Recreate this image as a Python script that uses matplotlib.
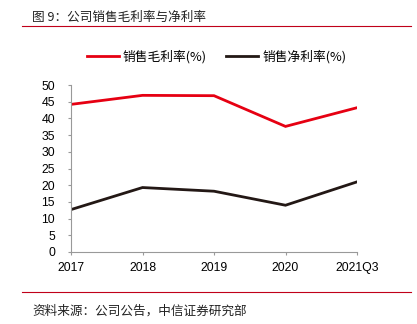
import matplotlib.pyplot as plt
from matplotlib.lines import Line2D

plt.rcParams['font.family'] = ['Liberation Sans', 'Noto Sans CJK SC', 'DejaVu Sans']

periods = ["2017", "2018", "2019", "2020", "2021Q3"]
gross_margin = [44.2, 46.9, 46.8, 37.6, 43.2]
net_margin = [12.7, 19.3, 18.2, 14.0, 21.0]

RED = "#e60012"
DARK = "#231815"
CJK = ['Noto Sans CJK SC', 'DejaVu Sans']

fig = plt.figure(figsize=(4.17, 3.24), dpi=100)
ax = fig.add_axes([71 / 417, 1 - 252 / 324, (357 - 71) / 417, (252 - 85) / 324])

x = range(len(periods))
ax.plot(x, gross_margin, color=RED, lw=2.0, solid_joinstyle="miter")
ax.plot(x, net_margin, color=DARK, lw=2.0, solid_joinstyle="miter")

ax.set_xlim(0, len(periods) - 1)
ax.set_ylim(0, 50)
ax.set_yticks(range(0, 51, 5))
ax.set_xticks(list(x))
ax.set_xticklabels(periods)
for s in ["top", "right"]:
    ax.spines[s].set_visible(False)
for s in ["left", "bottom"]:
    ax.spines[s].set_color("#999999")
    ax.spines[s].set_linewidth(0.8)
ax.tick_params(axis="both", colors="#999999", labelcolor="black", labelsize=8.8,
               length=2.5, width=0.8)
ax.tick_params(axis="y", pad=9)
ax.tick_params(axis="x", pad=4.5)

# header and footer
fig.text(32 / 417, 1 - 17 / 324, "图 9：公司销售毛利率与净利率", fontsize=9.1,
         family=CJK, va="center", ha="left", color="#222222")
fig.add_artist(Line2D([22 / 417, 411 / 417], [1 - 26.3 / 324] * 2, color="#c0001a", lw=0.8))
fig.add_artist(Line2D([22 / 417, 411 / 417], [1 - 291.7 / 324] * 2, color="#c0001a", lw=0.8))
fig.text(32 / 417, 1 - 311.5 / 324, "资料来源：公司公告，中信证券研究部", fontsize=9.1,
         family=CJK, va="center", ha="left", color="#222222")

# legend
handles = [Line2D([], [], color=RED, lw=2.0), Line2D([], [], color=DARK, lw=2.0)]
fig.legend(handles, ["销售毛利率(%)", "销售净利率(%)"], loc="center",
           bbox_to_anchor=(216.5 / 417, 1 - 57 / 324), ncol=2, frameon=False,
           prop={"family": CJK, "size": 9.2}, handlelength=2.5, columnspacing=1.55,
           handletextpad=0.3)

fig.savefig("out.png", dpi=100)
